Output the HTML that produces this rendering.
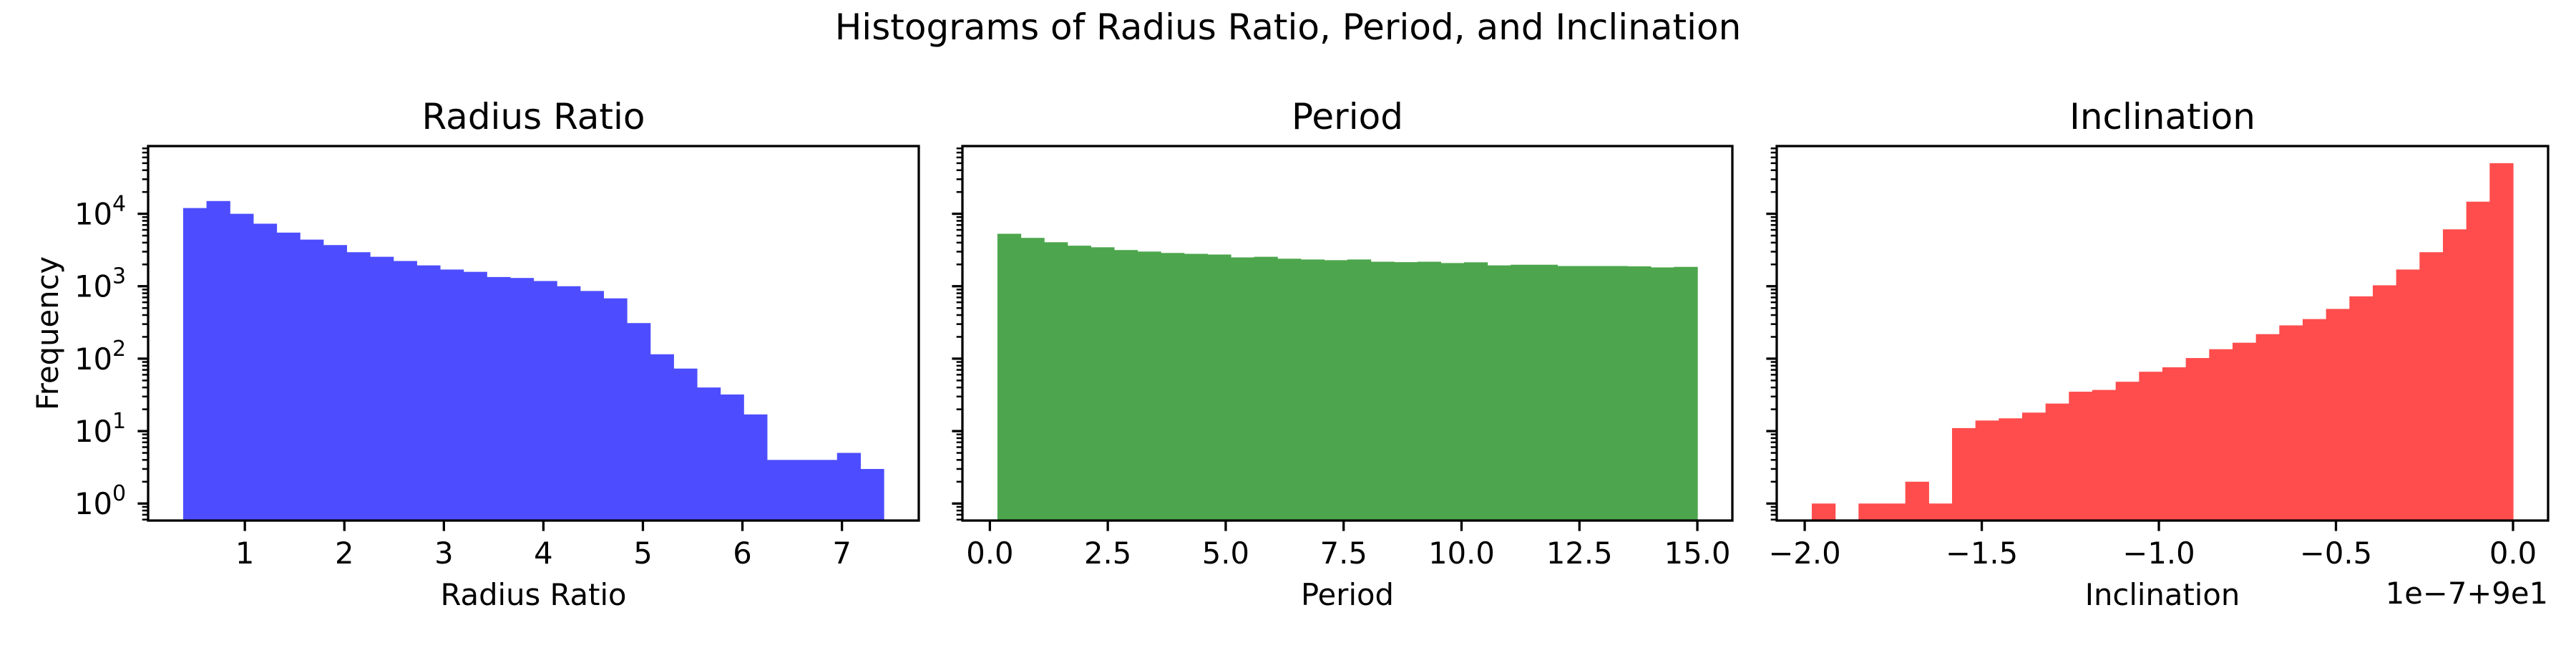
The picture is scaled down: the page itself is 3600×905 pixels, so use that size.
<!DOCTYPE html>
<html><head><meta charset="utf-8"><style>
html,body{margin:0;padding:0;background:#fff;}
svg text{font-family:"DejaVu Sans","Liberation Sans",sans-serif;fill:#000;}
</style></head><body>
<svg id="fig" xmlns="http://www.w3.org/2000/svg" width="3600" height="900" viewBox="0 0 3600 900">
<rect width="3600" height="900" fill="#fff"/>
<text x="1800" y="55" font-size="50" text-anchor="middle">Histograms of Radius Ratio, Period, and Inclination</text>
</svg>
<script>
// ---- data ----
const radiusRange = [0.38, 7.42];
const radiusCounts = [12000,15000,10000,7300,5500,4400,3700,2950,2550,2230,1940,1700,1580,1340,1300,1180,1000,860,680,310,115,73,40,32,17,4,4,4,5,3];
const radiusTicks = [1,2,3,4,5,6,7];
const radiusTickLabels = ["1","2","3","4","5","6","7"];

const periodRange = [0.16, 15.0];
const periodCounts = [5300,4650,4050,3630,3450,3160,3010,2880,2800,2740,2500,2550,2400,2340,2290,2340,2180,2150,2180,2090,2140,1940,1980,1980,1900,1900,1900,1880,1820,1850];
const periodTicks = [0,2.5,5,7.5,10,12.5,15];
const periodTickLabels = ["0.0","2.5","5.0","7.5","10.0","12.5","15.0"];

const inclRange = [-1.98, 0.0];
const inclCounts = [1,0,1,1,2,1,11,14,15,18,24,35,37,48,66,76,102,135,166,218,288,352,486,725,1030,1700,2950,6100,14700,50000];
const inclTicks = [-2,-1.5,-1,-0.5,0];
const inclTickLabels = ["\u22122.0","\u22121.5","\u22121.0","\u22120.5","0.0"];

const yDecades = [0,1,2,3,4];

// ---- layout ----
const NS = "http://www.w3.org/2000/svg";
const svg = document.getElementById('fig');
const top_ = 204, bot = 727;
const yMinLog = -0.235, yMaxLog = 4.935;
function yScale(v){ return bot - (Math.log10(v) - yMinLog) / (yMaxLog - yMinLog) * (bot - top_); }
function mk(tag, attrs, parent){ const e = document.createElementNS(NS, tag); for (const k in attrs) e.setAttribute(k, attrs[k]); (parent||svg).appendChild(e); return e; }

const panels = [
  {name:'radius', left:207, right:1284, range:radiusRange, counts:radiusCounts, ticks:radiusTicks, labels:radiusTickLabels, color:'#4d4dff', title:'Radius Ratio', xlabel:'Radius Ratio', ylab:true},
  {name:'period', left:1345, right:2421, range:periodRange, counts:periodCounts, ticks:periodTicks, labels:periodTickLabels, color:'#4da64d', title:'Period', xlabel:'Period', ylab:false},
  {name:'inclination', left:2483, right:3561, range:inclRange, counts:inclCounts, ticks:inclTicks, labels:inclTickLabels, color:'#ff4d4d', title:'Inclination', xlabel:'Inclination', ylab:false, offset:'1e\u22127+9e1'}
];

panels.forEach(p => {
  const g = mk('g', {});
  
  
  const span = p.range[1] - p.range[0];
  const xmin = p.range[0] - 0.05 * span, xmax = p.range[1] + 0.05 * span;
  const xs = v => p.left + (v - xmin) / (xmax - xmin) * (p.right - p.left);
  const n = p.counts.length, w = span / n;
  // bars
  p.counts.forEach((c, i) => {
    if (c <= 0) return;
    const x0 = xs(p.range[0] + i * w), x1 = xs(p.range[0] + (i + 1) * w);
    const y = yScale(c);
    const r = mk('rect', {x:x0, y:y, width:x1 - x0 + 0.6, height:bot - y, fill:p.color}, g);
    
    
  });
  // frame
  const fr = mk('rect', {x:p.left, y:top_, width:p.right - p.left, height:bot - top_, fill:'none', stroke:'#000', 'stroke-width':3.3}, g);
  
  
  // x ticks
  p.ticks.forEach((t, i) => {
    const x = xs(t);
    mk('line', {x1:x, x2:x, y1:bot, y2:bot + 14.6, stroke:'#000', 'stroke-width':3.3}, g);
    const tl = mk('text', {x:x, y:bot + 60, 'font-size':41.7, 'text-anchor':'middle'}, g);
    
    
    tl.textContent = p.labels[i];
  });
  // y ticks (log)
  for (let d = -1; d <= 5; d++) {
    for (let m = 1; m <= 9; m++) {
      const v = m * Math.pow(10, d);
      const y = yScale(v);
      if (y < top_ - 0.5 || y > bot + 0.5) continue;
      const major = m === 1;
      mk('line', {x1:p.left - (major ? 14.6 : 8.3), x2:p.left, y1:y, y2:y, stroke:'#000', 'stroke-width': major ? 3.3 : 2.5}, g);
    }
  }
  if (p.ylab) {
    yDecades.forEach(d => {
      const y = yScale(Math.pow(10, d));
      const tl = mk('text', {x:p.left - 50, y:y + 15, 'font-size':41.7, 'text-anchor':'end'}, g);
      
      
      tl.textContent = '10';
      const sp = mk('text', {x:p.left - 50, y:y - 4, 'font-size':30, 'text-anchor':'start'}, g);
      
      
      sp.textContent = String(d);
    });
    const yl = mk('text', {x:0, y:0, 'font-size':41.7, 'text-anchor':'middle', transform:'translate(81,' + ((top_ + bot) / 2) + ') rotate(-90)'}, g);
    
    
    yl.textContent = 'Frequency';
  }
  const tt = mk('text', {x:(p.left + p.right) / 2, y:180, 'font-size':50, 'text-anchor':'middle'}, g);
  
  
  tt.textContent = p.title;
  const xl = mk('text', {x:(p.left + p.right) / 2, y:845, 'font-size':41.7, 'text-anchor':'middle'}, g);
  
  
  xl.textContent = p.xlabel;
  if (p.offset) {
    const ot = mk('text', {x:p.right, y:843, 'font-size':41.7, 'text-anchor':'end'}, g);
    
    
    ot.textContent = p.offset;
  }
});
</script>
</body></html>
